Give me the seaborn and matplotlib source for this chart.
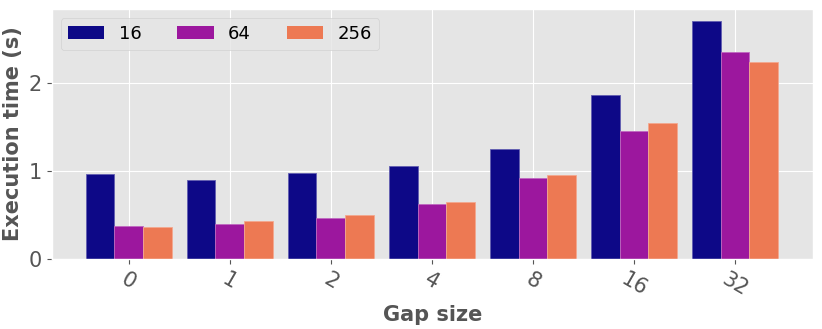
import pandas as pd
import seaborn as sns
import matplotlib.pyplot as plt

# Data
gap_sizes = ["0", "1", "2", "4", "8", "16", "32"]
series_names = ["16", "64", "256"]
time_16 = [0.96, 0.90, 0.98, 1.06, 1.25, 1.86, 2.70]
time_64 = [0.37, 0.40, 0.46, 0.62, 0.92, 1.45, 2.35]
time_256 = [0.36, 0.43, 0.50, 0.65, 0.95, 1.54, 2.24]
colors = ["#0d0887", "#9c179e", "#ed7953"]

rows = []
for name, vals in zip(series_names, [time_16, time_64, time_256]):
    for g, v in zip(gap_sizes, vals):
        rows.append({"Gap size": g, "series": name, "time": v})
df = pd.DataFrame(rows)

plt.style.use("ggplot")
fig, ax = plt.subplots(figsize=(8.22, 3.29), dpi=100)
fig.subplots_adjust(left=0.063, right=0.989, bottom=0.213, top=0.973)

sns.barplot(data=df, x="Gap size", y="time", hue="series", order=gap_sizes,
            hue_order=series_names, palette=colors, width=0.85, ax=ax,
            linewidth=0.6, saturation=1)

# soft edges in a lighter tint of each bar's own colour
for bar in ax.patches:
    r, g, b, _ = bar.get_facecolor()
    bar.set_edgecolor((r + (1 - r) * 0.35, g + (1 - g) * 0.35, b + (1 - b) * 0.35, 1))

ax.set_xlim(-0.76, 6.77)
ax.set_ylim(0, 2.84)
ax.set_yticks([0, 1, 2])
ax.xaxis.grid(True)
ax.yaxis.grid(True)
ax.set_axisbelow(True)

ax.set_xlabel("Gap size", fontsize=15, fontweight="bold", color="#555555")
ax.set_ylabel("Execution time (s)", fontsize=15, fontweight="bold", color="#555555")
ax.tick_params(axis="both", labelsize=15, colors="#555555")
plt.setp(ax.get_xticklabels(), rotation=-30)

sns.move_legend(ax, "upper left", ncol=3, title=None, frameon=True, fontsize=13,
                handlelength=2.0, handletextpad=0.8, columnspacing=2.0)

fig.savefig("out.png")
